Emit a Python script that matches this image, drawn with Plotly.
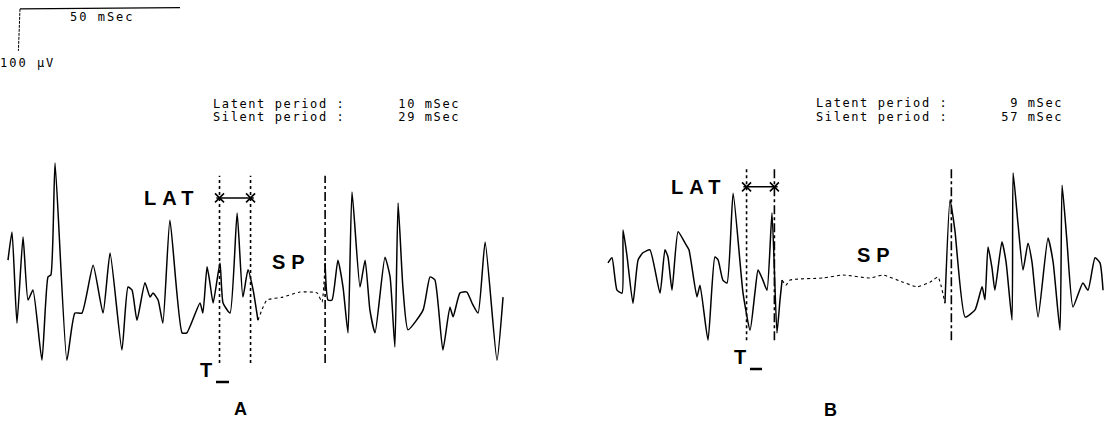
import plotly.graph_objects as go

# ---------------- data (time in ms, amplitude in µV) ----------------
a_time = [0, 1.25, 2.8, 4.7, 6.25, 7.8, 10.6, 12.5, 13.4, 14.7, 18.4, 20.9, 23.1, 26.6, 29.7,
          31.9, 35.6, 37.5, 38.75, 40.3, 42.8, 44.4, 45.3, 46.9, 48.4, 50.6, 54.4, 55.9, 60,
          60.9, 62.2, 63.1, 64.1, 66.25, 67.2, 69.4, 71.6, 73.4, 75, 76.6, 78.1,
          79.7, 80.9, 85.9, 91.25, 96.6, 98.1,
          99.1, 100, 101.25, 103.1, 104.7, 106.25, 107.5, 110, 111.6, 113.1, 114.7, 117.8,
          119.4, 120.9, 121.9, 123.4, 125, 129.7, 131.9, 133.4, 135.9, 138.1, 139.1, 141.25,
          143.4, 145, 146.9, 149.1, 152.8, 154.7]
a_uv = [83, 150, -67, 138, -12, 12, -155, 43, 48, 314, -155, -43, -43, 71, -43,
        100, -131, 19, 12, -60, 29, -5, 5, -12, -67, 178, -90, -90, -19,
        -43, 67, 29, -19, 76, -19, -43, 195, -5, 60, 12, -60,
        -29, -12, -5, 7, 5, -17,
        76, -12, -12, 83, 19, -90, 245, 19, 83, -36, -90, 90,
        43, -124, 219, 19, -83, -36, 43, 36, -131, -29, -52, 5,
        7, -19, -43, 126, -155, -5]

b_time = [0, 1.25, 2.8, 4.4, 4.7, 5.9, 7.8, 9.4, 10.9, 13.1, 16.25, 17.8, 18.75, 20, 21.9,
          24.1, 25.3, 27.8, 28.75, 31.25, 33.4, 34.4, 35.9, 37.2, 39.1, 42.2, 44.4, 45.9,
          46.9, 48.4, 49.7, 51.25, 52.8, 53.75, 54.4,
          55.6, 56.9, 67.2, 73.4, 81.9, 85.9, 92.2, 96.6, 100.6, 103.1,
          105.3, 106.9, 108.4, 111.6, 114.7, 116.9, 117.8, 118.75, 120, 120.9, 123.1, 124.4,
          126.25, 126.6, 128.1, 129.7, 131.25, 132.5, 134.4, 137.5, 139.1, 141.25, 141.9,
          143.4, 145.3, 148.4, 150, 152.2, 153.75, 154.7]
b_uv = [36, 48, -29, -36, 114, 55, -60, 43, 60, 67, -36, 67, 50, -29, 110,
        83, 67, -45, -17, -148, 50, 43, -5, -12, 202, -36, -124, -36,
        19, -5, -29, 155, -131, -52, -5,
        -17, -5, 0, 7, 0, 7, -10, -21, -10, 2,
        -60, 186, 114, -93, -76, -21, -52, 74, 24, -29, 86, 38,
        -100, 250, 131, 19, 83, 38, -93, 95, 38, -124, 221,
        90, -69, -12, -29, 48, 36, -29]

# silent-period windows (ms) and measured values
a_sp_window = [78.1, 99.1]
b_sp_window = [54.4, 105.3]
a_latent, a_silent = 10, 29
b_latent, b_silent = 9, 57

# event markers (ms) for each panel: stimulus, response onset, end of silent period
a_markers = [66.1, 75.8, 99.1]
b_markers = [43.3, 52.0, 107.3]
marker_span_uv_a = [-162, 284]
marker_span_uv_b = [-148, 265]
a_lat_uv = 231
b_lat_uv = 217

# calibration bar
cal_ms = 50
cal_uv = 100

# ---------------- figure ----------------
W, H = 1109, 443
PX_PER_MS = 3.2
UV_PER_PX = 2.38


def split(t, v, win):
    pre = [(x, y) for x, y in zip(t, v) if x <= win[0]]
    mid = [(x, y) for x, y in zip(t, v) if win[0] <= x <= win[1]]
    post = [(x, y) for x, y in zip(t, v) if x >= win[1]]
    return pre, mid, post


fig = go.Figure()

for t, v, win, xa, ya in [(a_time, a_uv, a_sp_window, "x", "y"),
                          (b_time, b_uv, b_sp_window, "x2", "y2")]:
    pre, mid, post = split(t, v, win)
    for seg, dash, w in [(pre, "solid", 1.5), (mid, "dot", 1.1), (post, "solid", 1.5)]:
        fig.add_trace(go.Scatter(x=[p[0] for p in seg], y=[p[1] for p in seg],
                                 mode="lines", xaxis=xa, yaxis=ya,
                                 line=dict(color="black", width=w, dash=dash,
                                           shape="spline", smoothing=0.5),
                                 showlegend=False, hoverinfo="skip"))

# vertical event markers
for markers, span, xa, ya, dashes in [(a_markers, marker_span_uv_a, "x", "y", ["dot", "dot", "dashdot"]),
                                      (b_markers, marker_span_uv_b, "x2", "y2", ["dot", "dashdot", "dashdot"])]:
    for m, d in zip(markers, dashes):
        fig.add_trace(go.Scatter(x=[m, m], y=span, mode="lines", xaxis=xa, yaxis=ya,
                                 line=dict(color="black", width=1.6, dash=d),
                                 showlegend=False, hoverinfo="skip"))

# LAT arrows
for markers, lat_uv, xa, ya in [(a_markers, a_lat_uv, "x", "y"), (b_markers, b_lat_uv, "x2", "y2")]:
    fig.add_trace(go.Scatter(x=[markers[0] - 1.0, markers[1] + 1.0], y=[lat_uv, lat_uv],
                             mode="lines", xaxis=xa, yaxis=ya,
                             line=dict(color="black", width=1.4),
                             showlegend=False, hoverinfo="skip"))
    fig.add_trace(go.Scatter(x=[markers[0], markers[1]], y=[lat_uv, lat_uv],
                             mode="markers", xaxis=xa, yaxis=ya,
                             marker=dict(symbol="x-thin", size=9, line=dict(color="black", width=1.6)),
                             showlegend=False, hoverinfo="skip"))

# calibration bar (in panel A units)
cal_t0, cal_top = 3.75, 681
fig.add_trace(go.Scatter(x=[cal_t0 + cal_ms, cal_t0], y=[cal_top + 3, cal_top],
                         mode="lines", line=dict(color="black", width=1.1),
                         showlegend=False, hoverinfo="skip"))
fig.add_trace(go.Scatter(x=[cal_t0, cal_t0 - 0.5], y=[cal_top, cal_top - cal_uv],
                         mode="lines", line=dict(color="black", width=1.0, dash="3px,1px"),
                         showlegend=False, hoverinfo="skip"))


def P(x, y):
    return x / W, 1 - y / H


MONO = "DejaVu Sans Mono, monospace"
BOLD = "Liberation Sans, Arial, sans-serif"
ann = []


def text(s, x, y, size, family, xanchor="center", bold=False, spacing=0):
    px, py = P(x, y)
    if spacing:
        s = f'<span style="letter-spacing:{spacing}px">{s}</span>'
    if bold:
        s = f"<b>{s}</b>"
    ann.append(dict(text=s, x=px, y=py, xref="paper", yref="paper", showarrow=False,
                    xanchor=xanchor, yanchor="middle", borderpad=0, borderwidth=0,
                    font=dict(size=size, family=family, color="black")))


HDR = "{} period :      {:2d} mSec"
text(HDR.format("Latent", a_latent), 213, 104, 12, MONO, "left", spacing=1.6)
text(HDR.format("Silent", a_silent), 213, 117, 12, MONO, "left", spacing=1.6)
text(HDR.format("Latent", b_latent), 816, 103, 12, MONO, "left", spacing=1.6)
text(HDR.format("Silent", b_silent), 816, 117, 12, MONO, "left", spacing=1.6)
text("%d mSec" % cal_ms, 70, 17, 12, MONO, "left", spacing=2)
text("%d µV" % cal_uv, 0, 63, 12, MONO, "left", spacing=2)

text("LAT", 171, 198, 20, BOLD, bold=True, spacing=6)
text("SP", 291, 262, 20, BOLD, bold=True, spacing=6)
text("T", 206, 370, 20, BOLD, bold=True)
text("A", 240, 409, 18, BOLD, bold=True)
text("LAT", 698, 187, 20, BOLD, bold=True, spacing=6)
text("SP", 876, 255, 20, BOLD, bold=True, spacing=6)
text("T", 740, 357, 20, BOLD, bold=True)
text("B", 830, 410, 18, BOLD, bold=True)

shapes = []
for x0, x1, y in [(216, 229, 382), (750, 762, 369)]:
    a0 = P(x0, y)
    a1 = P(x1, y)
    shapes.append(dict(type="line", xref="paper", yref="paper", x0=a0[0], y0=a0[1], x1=a1[0], y1=a1[1],
                       line=dict(color="black", width=2.5)))

ax_common = dict(visible=False, showgrid=False, zeroline=False, fixedrange=True)
fig.update_layout(
    width=W, height=H, margin=dict(l=0, r=0, t=0, b=0),
    paper_bgcolor="white", plot_bgcolor="white",
    xaxis=dict(domain=[0, 1], range=[-8 / PX_PER_MS, (W - 8) / PX_PER_MS], **ax_common),
    xaxis2=dict(overlaying="x", range=[-608 / PX_PER_MS, (W - 608) / PX_PER_MS], **ax_common),
    yaxis=dict(domain=[0, 1], range=[-(H - 295) * UV_PER_PX, 295 * UV_PER_PX], **ax_common),
    yaxis2=dict(overlaying="y", range=[-(H - 278) * UV_PER_PX, 278 * UV_PER_PX], **ax_common),
    annotations=ann, shapes=shapes, showlegend=False,
)

fig.write_html("out.html", config={"displayModeBar": False},
               post_script="document.body.style.margin='0px';document.body.style.overflow='hidden';")
